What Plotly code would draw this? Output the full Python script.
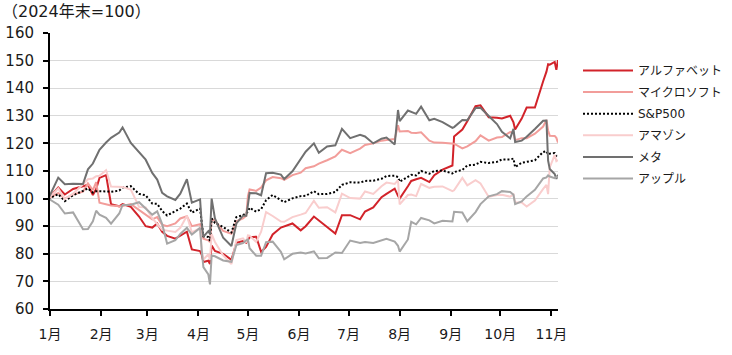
import plotly.graph_objects as go

dates = [
    "2024-12-31", "2025-01-06", "2025-01-10", "2025-01-15", "2025-01-21", "2025-01-24", "2025-01-27", "2025-01-29", "2025-01-31",
    "2025-02-04", "2025-02-07", "2025-02-12", "2025-02-14", "2025-02-19", "2025-02-24", "2025-02-28",
    "2025-03-04", "2025-03-07", "2025-03-10", "2025-03-13", "2025-03-18", "2025-03-21", "2025-03-25", "2025-03-28",
    "2025-04-02", "2025-04-03", "2025-04-04", "2025-04-07", "2025-04-08", "2025-04-09", "2025-04-11", "2025-04-16", "2025-04-21", "2025-04-24",
    "2025-04-28", "2025-04-30", "2025-05-01", "2025-05-02", "2025-05-06", "2025-05-09", "2025-05-12", "2025-05-16",
    "2025-05-21", "2025-05-23", "2025-05-28", "2025-06-02", "2025-06-05", "2025-06-10", "2025-06-13", "2025-06-18",
    "2025-06-23", "2025-06-27", "2025-07-02", "2025-07-08", "2025-07-11", "2025-07-16", "2025-07-21", "2025-07-24",
    "2025-07-29", "2025-07-31", "2025-08-01", "2025-08-06", "2025-08-08", "2025-08-11", "2025-08-14", "2025-08-19", "2025-08-22",
    "2025-08-27", "2025-09-02", "2025-09-03", "2025-09-08", "2025-09-11", "2025-09-16", "2025-09-19", "2025-09-24",
    "2025-09-29", "2025-10-02", "2025-10-07", "2025-10-09", "2025-10-10", "2025-10-14", "2025-10-17", "2025-10-22", "2025-10-27",
    "2025-10-29", "2025-10-30", "2025-10-31", "2025-11-03", "2025-11-04", "2025-11-05",
]

alphabet = [
    100, 104, 101.5, 103.5, 104.5, 105, 101.3, 103.5, 107.5,
    108.5, 98, 97.2, 98, 97, 93.5, 90,
    89.5, 91, 88, 86.5, 85.5, 86.6, 88, 81.6,
    81, 79.6, 77, 77.5, 76.3, 83, 81, 80, 77.8, 84,
    84.6, 84, 85, 86, 86.2, 80.7, 82.5, 87,
    89.5, 90, 91, 88.5, 90, 93.5, 92, 89.5,
    87.3, 94, 94, 92.5, 95.3, 96.8, 100.5, 101.7,
    103.6, 101, 100, 104.5, 106.4, 107, 107.5, 106, 108.5,
    110.5, 112, 122.5, 125, 128, 133.5, 133.8, 129.5,
    129.3, 129, 130, 127.6, 125, 129, 133, 133, 142.5,
    146, 148.7, 148.5, 149.5, 146.7, 150.2,
]

microsoft = [
    100, 102, 100, 101.5, 102.5, 105.5, 103.1, 106, 98.5,
    98, 97.5, 97.2, 97.3, 98, 95.8, 94.3,
    92.5, 93.3, 90.5, 90, 91, 92.8, 93.6, 90,
    90.7, 88.5, 85.5, 84.9, 84.2, 92.5, 92, 88.3, 87.3, 91.8,
    92.8, 93.8, 100.9, 103.3, 102.8, 104, 106.6, 107.8,
    107.4, 106.8, 108.5, 109.4, 111, 111.7, 112.7, 113.9,
    115.3, 117.7, 116.5, 118.1, 119.4, 120, 121, 121.2,
    121.6, 126.6, 124.3, 124.5, 123.9, 123.8, 124, 121, 120.3,
    120.2, 119.9, 119.9, 118.2, 118.9, 120.8, 122.9, 121,
    122.1, 122.3, 124.1, 123.9, 121.2, 121.9, 121.9, 123.5, 126.1,
    128.5, 124.7, 122.8, 122.7, 122, 120.3,
]

sp500 = [
    100, 101.6, 99.1, 101.2, 102.8, 103.7, 102.2, 102.7, 102.7,
    102.7, 102.5, 102.9, 104, 104.5, 101.7, 101.2,
    98.2, 98.1, 95.5, 93.9, 95.5, 96.4, 98.2, 94.9,
    96.4, 91.8, 86.3, 86.1, 84.7, 92.8, 91.2, 89.7, 87.7, 93.3,
    94, 94.7, 95.3, 96.7, 95.3, 96.2, 99.4, 101.3,
    99.4, 98.7, 100.1, 100.9, 101, 102.7, 101.6, 101.7,
    102.4, 105, 105.9, 105.8, 106.4, 106.5, 107.2, 108.2,
    108.3, 107.8, 106.1, 107.9, 108.6, 108.4, 110, 109, 110,
    110.2, 109.1, 109.6, 110.4, 112, 112.3, 113.3, 112.9,
    113.3, 114.2, 114.2, 114.5, 111.4, 113, 113.3, 113.9, 116.9,
    117.2, 116, 116.3, 116.5, 115.1, 115.6,
]

amazon = [
    100, 103.7, 99.8, 101.8, 105.2, 107, 107.3, 108.1, 108.3,
    110.3, 104.4, 104.3, 104.2, 103.3, 97, 96.8,
    92.9, 90.8, 88.7, 88.4, 87.9, 89.4, 93.8, 87.8,
    89.3, 81.3, 77.9, 79.9, 77.8, 87.1, 84.3, 79.4, 76.3, 85,
    85.6, 84.1, 86.7, 86.6, 84.3, 88, 95.1, 93.7,
    91.7, 91.6, 93.3, 94.2, 94.8, 99.2, 96.7, 96.9,
    95, 101.8, 100.2, 100, 102.6, 101.7, 104.5, 105.8,
    105.3, 106.7, 97.9, 101.3, 101.5, 100.9, 105.3, 103.9, 104.3,
    104.4, 102.7, 103, 107.5, 104.8, 106.7, 105.5, 100.6,
    101.3, 101.4, 100.7, 101.5, 98.6, 98.6, 97.1, 99.3, 103.5,
    105, 101.6, 111.3, 115.8, 113.6, 114,
]

meta = [
    100, 107.6, 105.2, 105.4, 105.3, 110.6, 112.7, 115.5, 117.7,
    120.3, 122, 123.9, 125.8, 120.2, 116.8, 114.1,
    109.3, 106.9, 102.1, 100.8, 99.5, 101.8, 107, 98.5,
    99.7, 90.8, 86.2, 88.2, 87.2, 100, 92.8, 85.8, 82.8, 91,
    93.8, 93.8, 97.7, 102, 101.9, 101.2, 109.2, 109.4,
    108.7, 107.1, 109.9, 114.6, 117, 120, 116.6, 118.9,
    119.3, 125.3, 121.9, 123.1, 122.5, 120, 121.7, 122.1,
    119.6, 132.1, 128.1, 131.9, 131.4, 130.7, 133.3, 128.4, 128.9,
    127.7, 125.6, 125.9, 128.5, 128.4, 132.8, 132.9, 129.9,
    127, 124.2, 121.8, 125.3, 120.5, 121, 122.4, 125.2, 128.2,
    128.3, 113.8, 110.7, 108.9, 107.1, 108.6,
]

apple = [
    100, 97.8, 94.6, 95, 88.9, 89, 91.8, 95.6, 94.2,
    93, 90.9, 94.6, 97.7, 97.8, 98.7, 96.6,
    94.2, 95.4, 90.8, 83.7, 84.9, 87.2, 89.4, 87,
    89.4, 81.1, 75.2, 72.5, 68.9, 79.4, 79.1, 77.6, 77.1, 83.2,
    83.9, 84.9, 85.2, 82, 79.3, 79.3, 84.2, 84.4,
    80.7, 78, 80, 80.5, 80.1, 80.9, 78.4, 78.5,
    80.5, 80.3, 84.8, 83.9, 84.3, 83.9, 84.9, 85.4,
    84.4, 82.9, 80.8, 85.2, 91.6, 90.7, 93, 92.1, 91,
    92, 91.7, 95.2, 95, 91.8, 95.1, 98, 100.8,
    101.6, 102.7, 102.4, 101.4, 98, 99, 100.8, 103.2, 107.3,
    107.7, 108.4, 108, 107.4, 107.8, 107.9,
]

series_names = ["アルファベット", "マイクロソフト", "S&P500", "アマゾン", "メタ", "アップル"]
month_ticks = ["2025-%02d-01" % m for m in range(1, 12)]
month_labels = ["%d月" % m for m in range(1, 12)]
y_ticks = list(range(60, 161, 10))

styles = [
    dict(color="#D2232A", width=2, dash="solid"),
    dict(color="#F29D9A", width=2, dash="solid"),
    dict(color="#000000", width=2, dash="2px,2px"),
    dict(color="#F9CDCD", width=2, dash="solid"),
    dict(color="#707070", width=2, dash="solid"),
    dict(color="#A6A6A6", width=2, dash="solid"),
]

FONT = "DejaVu Sans, Noto Sans CJK JP, sans-serif"
TXT = "#1a1a1a"

fig = go.Figure()
for name, vals, st in zip(series_names, [alphabet, microsoft, sp500, amazon, meta, apple], styles):
    fig.add_trace(go.Scatter(x=dates, y=vals, mode="lines", name=name, line=st, legendgroup=name))

W, H = 732, 355
L, R, T, B = 50, 174, 33, 46
pw = W - L - R
ph = H - T - B

fig.update_layout(
    width=W, height=H,
    margin=dict(l=L, r=R, t=T, b=B, autoexpand=False),
    paper_bgcolor="white", plot_bgcolor="white",
    font=dict(family=FONT, size=14, color=TXT),
    showlegend=True,
    legend=dict(
        x=(578 - L) / pw, xanchor="left",
        y=(H - B - 56) / ph, yanchor="top",
        font=dict(family=FONT, size=12, color=TXT),
        bgcolor="rgba(0,0,0,0)", itemwidth=50,
        traceorder="grouped", tracegroupgap=2.6,
    ),
    xaxis=dict(
        type="date", range=["2025-01-01", "2025-11-05"],
        tickmode="array", tickvals=month_ticks, ticktext=month_labels,
        showgrid=False, zeroline=False,
        showline=True, linecolor="black", linewidth=2,
        ticks="outside", ticklen=5, tickwidth=2, tickcolor="black",
        ticklabelstandoff=6,
        tickfont=dict(family=FONT, size=14, color=TXT),
    ),
    yaxis=dict(
        range=[60, 160], tickmode="array", tickvals=y_ticks,
        showgrid=True, gridcolor="#D9D9D9", gridwidth=1, zeroline=False,
        showline=True, linecolor="black", linewidth=2,
        ticks="outside", ticklen=5, tickwidth=2, tickcolor="black",
        ticklabelstandoff=6,
        tickfont=dict(family=FONT, size=15, color=TXT),
    ),
    annotations=[dict(
        text="（2024年末=100）", xref="paper", yref="paper",
        x=-L / pw, y=(H - B - 11.5) / ph, xanchor="left", yanchor="middle",
        showarrow=False, font=dict(family=FONT, size=16, color=TXT),
    )],
)

fig.write_html("out.html", config={"displayModeBar": False},
               post_script="document.body.style.margin='0';")
